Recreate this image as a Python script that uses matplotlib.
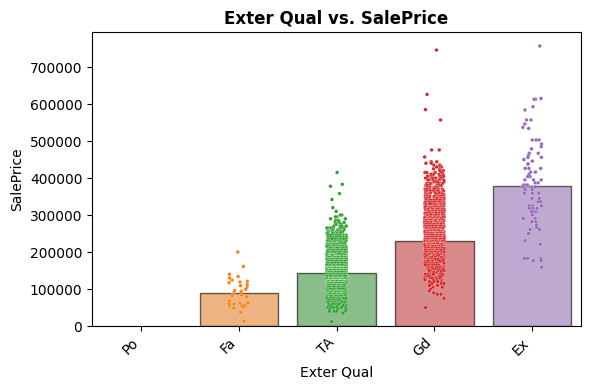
import matplotlib
matplotlib.use("Agg")
import matplotlib.pyplot as plt
import numpy as np
import pandas as pd
import seaborn as sns

# Categories and mean SalePrice per category (Po has no houses)
categories = ["Po", "Fa", "TA", "Gd", "Ex"]
mean_price = [np.nan, 89000, 143000, 231000, 378000]

# Individual sale prices (values in dollars)
fa_prices = [200000, 161000, 140000, 134000, 121000, 124000, 117000, 119000,
             109000, 104500, 94600, 99000, 92700, 86500, 81000, 82000, 84000,
             63000, 58600, 59500, 54000, 56000, 57600, 48600, 37000, 13000,
             60000, 62000, 88000, 96000, 112000, 130000, 67500, 79000, 52000]

# Dense categories: price level (thousands) and number of houses at that level
ta_levels = [415, 383, 378, 358, 342, 320, 310,
             300, 295, 290, 285, 280, 275, 270, 265, 260, 255, 250, 245,
             240, 235, 230, 225, 220, 215, 210, 205, 200, 195, 190, 185,
             180, 175, 170, 165, 160, 155, 150, 145, 140, 135, 130, 125,
             120, 115, 110, 105, 100, 95, 90, 85, 80, 75, 70, 65,
             60, 55, 50, 45, 40, 35, 12]
ta_counts = [1, 1, 1, 1, 1, 1, 1,
             2, 2, 2, 3, 3, 4, 5, 6, 7, 9, 10, 12,
             14, 16, 18, 20, 23, 26, 28, 31, 34, 37, 40, 44,
             48, 52, 56, 61, 65, 70, 74, 78, 82, 85, 86, 85,
             82, 78, 74, 66, 58, 50, 42, 34, 27, 22, 17, 14,
             11, 8, 6, 5, 4, 2, 1]

gd_levels = [746, 626, 585, 557, 476, 457, 444,
             440, 435, 430, 425, 420, 415, 410, 405, 400, 395, 390, 385,
             380, 375, 370, 365, 360, 355, 350, 345, 340, 335, 330, 325,
             320, 315, 310, 305, 300, 295, 290, 285, 280, 275, 270, 265,
             260, 255, 250, 245, 240, 235, 230, 225, 220, 215, 210, 205,
             200, 195, 190, 185, 180, 175, 170, 165, 160, 155, 150, 145,
             140, 135, 130, 125, 120, 115, 110, 105, 100, 95, 90, 86, 75, 50]
gd_counts = [1, 1, 1, 1, 2, 1, 2,
             2, 2, 3, 3, 4, 4, 5, 5, 6, 6, 7, 7,
             8, 9, 10, 10, 11, 12, 13, 14, 15, 16, 17, 18,
             19, 20, 21, 22, 23, 24, 25, 26, 27, 28, 29, 30,
             30, 31, 31, 31, 31, 31, 30, 30, 29, 28, 27, 25,
             23, 21, 19, 17, 15, 14, 13, 12, 11, 10, 10, 9,
             8, 7, 6, 5, 5, 4, 3, 2, 1, 1, 1, 2, 1, 1]

ex_prices = [757000, 615000, 613000, 613000, 593000, 584000, 557000, 557000,
             546000, 537000, 534000, 503000, 503000, 503000, 492000, 485000,
             479000, 467000, 467000, 461000, 456000, 456000, 450000, 446000,
             438000, 438000, 426000, 426000, 426000, 416000, 416000, 410000,
             404000, 404000, 395000, 395000, 395000, 387000, 387000, 381000,
             381000, 381000, 381000, 376000, 376000, 376000, 369000, 369000,
             359000, 359000, 359000, 345000, 345000, 336000, 336000, 325000,
             325000, 325000, 318000, 318000, 318000, 318000, 309000, 309000,
             309000, 300000, 291000, 291000, 282000, 282000, 282000, 273000,
             267000, 261000, 261000, 250000, 250000, 231000, 221000, 183000,
             183000, 183000, 177000, 177000, 159000]

palette = dict(zip(categories, sns.color_palette("tab10", 5)))

ta_prices = np.repeat(np.array(ta_levels) * 1000, ta_counts)
gd_prices = np.repeat(np.array(gd_levels) * 1000, gd_counts)

points = pd.DataFrame({
    "Exter Qual": (["Fa"] * len(fa_prices) + ["TA"] * len(ta_prices)
                   + ["Gd"] * len(gd_prices) + ["Ex"] * len(ex_prices)),
    "SalePrice": np.concatenate([fa_prices, ta_prices, gd_prices, ex_prices]),
})
means = pd.DataFrame({"Exter Qual": categories[1:], "SalePrice": mean_price[1:]})

fig, ax = plt.subplots(figsize=(5.9, 3.9), dpi=100)

sns.barplot(data=means, x="Exter Qual", y="SalePrice", order=categories,
            hue="Exter Qual", hue_order=categories, palette=palette,
            alpha=0.6, edgecolor="black", errorbar=None, legend=False, ax=ax)
sns.stripplot(data=points, x="Exter Qual", y="SalePrice", order=categories,
              hue="Exter Qual", hue_order=categories, palette=palette,
              size=2.6, jitter=True, linewidth=0.15, edgecolor="white",
              legend=False, ax=ax)

ax.set_title("Exter Qual vs. SalePrice", fontweight="bold")
ax.set_xlabel("Exter Qual")
ax.set_ylabel("SalePrice")
ax.ticklabel_format(style="plain", axis="y")
plt.setp(ax.get_xticklabels(), rotation=45, ha="right")

fig.subplots_adjust(left=0.156, right=0.985, top=0.918, bottom=0.164)
plt.savefig("out.png", dpi=100)
